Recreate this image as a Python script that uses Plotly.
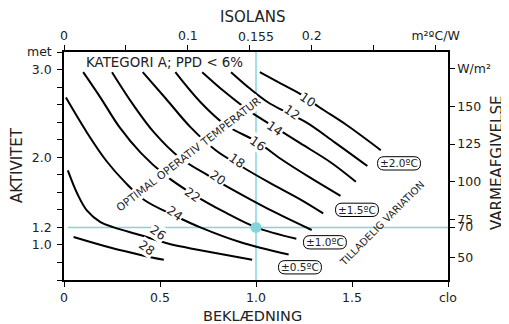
import plotly.graph_objects as go

# ---- optimal operative temperature curves: clothing (clo) vs activity (met) ----
t10_clo = [1.02, 1.13, 1.24, 1.33, 1.47, 1.65]
t10_met = [2.97, 2.84, 2.71, 2.57, 2.37, 2.08]
t12_clo = [0.87, 0.97, 1.06, 1.16, 1.26, 1.41, 1.58]
t12_met = [2.97, 2.78, 2.63, 2.51, 2.40, 2.17, 1.90]
t14_clo = [0.72, 0.84, 0.97, 1.10, 1.23, 1.39, 1.52]
t14_met = [2.97, 2.74, 2.52, 2.34, 2.16, 1.94, 1.72]
t16_clo = [0.58, 0.71, 0.84, 1.01, 1.13, 1.28, 1.44]
t16_met = [2.97, 2.63, 2.37, 2.17, 1.98, 1.77, 1.56]
t18_clo = [0.41, 0.53, 0.66, 0.79, 0.92, 1.07, 1.23, 1.35]
t18_met = [2.97, 2.67, 2.34, 2.08, 1.90, 1.71, 1.52, 1.36]
t20_clo = [0.25, 0.36, 0.47, 0.60, 0.76, 0.92, 1.10, 1.29]
t20_met = [2.97, 2.60, 2.28, 2.00, 1.78, 1.58, 1.37, 1.17]
t22_clo = [0.10, 0.19, 0.29, 0.40, 0.53, 0.67, 0.84, 1.00, 1.21]
t22_met = [2.97, 2.68, 2.34, 2.05, 1.79, 1.58, 1.37, 1.20, 1.07]
t24_clo = [0.01, 0.12, 0.22, 0.32, 0.42, 0.58, 0.71, 0.92, 1.17]
t24_met = [2.68, 2.28, 1.96, 1.71, 1.51, 1.33, 1.20, 1.03, 0.89]
t26_clo = [0.02, 0.07, 0.12, 0.19, 0.26, 0.40, 0.55, 0.71, 0.98]
t26_met = [1.85, 1.58, 1.39, 1.26, 1.20, 1.11, 1.01, 0.94, 0.83]
t28_clo = [0.05, 0.24, 0.41, 0.52]
t28_met = [1.09, 0.97, 0.88, 0.83]

curves_clo = [t10_clo, t12_clo, t14_clo, t16_clo, t18_clo, t20_clo, t22_clo, t24_clo, t26_clo, t28_clo]
curves_met = [t10_met, t12_met, t14_met, t16_met, t18_met, t20_met, t22_met, t24_met, t26_met, t28_met]

# curve labels
temp_labels = ["10", "12", "14", "16", "18", "20", "22", "24", "26", "28"]
temp_label_clo = [1.27, 1.19, 1.10, 1.01, 0.90, 0.80, 0.67, 0.58, 0.49, 0.43]
temp_label_met = [2.66, 2.51, 2.33, 2.16, 1.96, 1.77, 1.58, 1.36, 1.14, 0.97]

# permissible variation labels
tol_labels = ["±2.0ºC", "±1.5ºC", "±1.0ºC", "±0.5ºC"]
tol_clo = [1.745, 1.526, 1.359, 1.229]
tol_met = [1.93, 1.40, 1.03, 0.745]

# reference point
ref_clo = [1.0]
ref_met = [1.2]

# axes
clo_ticks = [0, 0.5, 1.0, 1.5, 2.0]
clo_ticktext = ["0", "0.5", "1.0", "1.5", "clo"]
iso_ticks = [0, 0.05, 0.10, 0.15, 0.20, 0.25, 0.30]
iso_ticktext = ["0", "", "0.1", "", "0.2", "", "m²ºC/W"]
iso_special = [0.155]
iso_special_text = ["0.155"]
met_ticks = [0.6, 0.8, 1.0, 1.2, 1.4, 1.6, 1.8, 2.0, 2.2, 2.4, 2.6, 2.8, 3.0, 3.2]
met_ticktext = ["", "", "1.0", "1.2", "", "", "", "2.0", "", "", "", "", "3.0", "met"]
w_ticks = [50, 70, 75, 100, 125, 150, 175]
w_ticktext = ["50", "70", "75", "100", "125", "150", "W/m²"]

CLO_RANGE = [0, 2.0]
MET_RANGE = [0.6, 3.2]
CLO_TO_ISO = 0.155
MET_TO_W = 58.15

CYAN = "#84d4dc"
FONT = "DejaVu Sans"
TXT = "#222222"

# pill box half sizes (data units)
PILL_HW = 0.112
PILL_HH = 0.076
PILL_R = 0.034

fig = go.Figure()

# cyan guide lines
fig.add_trace(go.Scatter(x=[0.02, CLO_RANGE[1]], y=[ref_met[0], ref_met[0]], mode="lines",
                         line=dict(color=CYAN, width=1.5), hoverinfo="skip", showlegend=False))
fig.add_trace(go.Scatter(x=[ref_clo[0], ref_clo[0]], y=MET_RANGE, mode="lines",
                         line=dict(color=CYAN, width=1.5), hoverinfo="skip", showlegend=False))

for cx, cy in zip(curves_clo, curves_met):
    fig.add_trace(go.Scatter(x=cx, y=cy, mode="lines",
                             line=dict(color="black", width=2, shape="spline", smoothing=1.0),
                             hoverinfo="skip", showlegend=False))

fig.add_trace(go.Scatter(x=ref_clo, y=ref_met, mode="markers",
                         marker=dict(color=CYAN, size=11), hoverinfo="skip", showlegend=False))

# dummy traces to activate secondary axes
fig.add_trace(go.Scatter(x=[None], y=[None], xaxis="x2", yaxis="y", showlegend=False, hoverinfo="skip"))
fig.add_trace(go.Scatter(x=[None], y=[None], xaxis="x3", yaxis="y", showlegend=False, hoverinfo="skip"))
fig.add_trace(go.Scatter(x=[None], y=[None], xaxis="x", yaxis="y2", showlegend=False, hoverinfo="skip"))

shapes = []
for cx, cy in zip(tol_clo, tol_met):
    l, r, b, t = cx - PILL_HW, cx + PILL_HW, cy - PILL_HH, cy + PILL_HH
    path = (f"M {l + PILL_R},{t} L {r - PILL_R},{t} Q {r},{t} {r},{cy} Q {r},{b} {r - PILL_R},{b} "
            f"L {l + PILL_R},{b} Q {l},{b} {l},{cy} Q {l},{t} {l + PILL_R},{t} Z")
    shapes.append(dict(type="path", path=path, xref="x", yref="y", fillcolor="white",
                       line=dict(color="black", width=1), layer="above"))

annotations = []
for t, x, y in zip(temp_labels, temp_label_clo, temp_label_met):
    annotations.append(dict(x=x, y=y, xref="x", yref="y", text=t, showarrow=False, textangle=35,
                            xanchor="center", yanchor="middle",
                            font=dict(family=FONT, size=12.5, color=TXT), bgcolor="white", borderpad=0))
for t, x, y in zip(tol_labels, tol_clo, tol_met):
    annotations.append(dict(x=x, y=y, xref="x", yref="y", text=t, showarrow=False,
                            xanchor="center", yanchor="middle",
                            font=dict(family=FONT, size=10.5, color=TXT)))

annotations += [
    dict(x=0.648, y=2.035, xref="x", yref="y", text="OPTIMAL OPERATIV TEMPERATUR", showarrow=False,
         xanchor="center", yanchor="middle",
         textangle=-37.7, font=dict(family=FONT, size=10.8, color=TXT), bgcolor="white", borderpad=0),
    dict(x=1.655, y=1.249, xref="x", yref="y", text="TILLADELIG VARIATION", showarrow=False,
         xanchor="center", yanchor="middle",
         textangle=-45, font=dict(family=FONT, size=10, color=TXT)),
    dict(x=0.104, y=3.079, xref="x", yref="y", text="KATEGORI A; PPD < 6%", showarrow=False,
         xanchor="left", yanchor="middle", font=dict(family=FONT, size=13.4, color=TXT)),
    dict(x=0.492, y=1.1535, xref="paper", yref="paper", text="ISOLANS", showarrow=False,
         xanchor="center", yanchor="middle", font=dict(family=FONT, size=15, color=TXT)),
    dict(x=0.492, y=-0.157, xref="paper", yref="paper", text="BEKLÆDNING", showarrow=False,
         xanchor="center", yanchor="middle", font=dict(family=FONT, size=14.5, color=TXT)),
    dict(x=-0.1224, y=0.504, xref="paper", yref="paper", text="AKTIVITET", showarrow=False,
         xanchor="center", yanchor="middle",
         textangle=-90, font=dict(family=FONT, size=15, color=TXT)),
    dict(x=1.1276, y=0.513, xref="paper", yref="paper", text="VARMEAFGIVELSE", showarrow=False,
         xanchor="center", yanchor="middle",
         textangle=-90, font=dict(family=FONT, size=15, color=TXT)),
]

axis_common = dict(showgrid=False, zeroline=False, showline=True, linecolor="black", linewidth=1.5,
                   ticks="outside", ticklen=5, tickwidth=1.2, tickcolor="black",
                   tickfont=dict(family=FONT, size=12.5, color=TXT), tickmode="array")

fig.update_layout(
    width=509, height=324,
    margin=dict(l=56, r=69, t=44, b=52, autoexpand=False),
    paper_bgcolor="white", plot_bgcolor="white",
    showlegend=False,
    xaxis=dict(range=CLO_RANGE, tickvals=clo_ticks, ticktext=clo_ticktext, **axis_common),
    xaxis2=dict(range=[CLO_RANGE[0] * CLO_TO_ISO, CLO_RANGE[1] * CLO_TO_ISO], overlaying="x", side="top",
                tickvals=iso_ticks, ticktext=iso_ticktext, **axis_common),
    xaxis3=dict(range=[CLO_RANGE[0] * CLO_TO_ISO, CLO_RANGE[1] * CLO_TO_ISO], overlaying="x", side="top",
                tickvals=iso_special, ticktext=iso_special_text, showgrid=False, zeroline=False,
                showline=False, ticks="outside", ticklen=5, tickcolor="rgba(0,0,0,0)",
                tickfont=dict(family=FONT, size=12.5, color=TXT), tickmode="array"),
    yaxis=dict(range=MET_RANGE, tickvals=met_ticks, ticktext=met_ticktext, ticklabelstandoff=3,
               **axis_common),
    yaxis2=dict(range=[MET_RANGE[0] * MET_TO_W, MET_RANGE[1] * MET_TO_W], overlaying="y", side="right",
                tickvals=w_ticks, ticktext=w_ticktext, **axis_common),
    shapes=shapes,
    annotations=annotations,
)

fig.write_html("out.html")
